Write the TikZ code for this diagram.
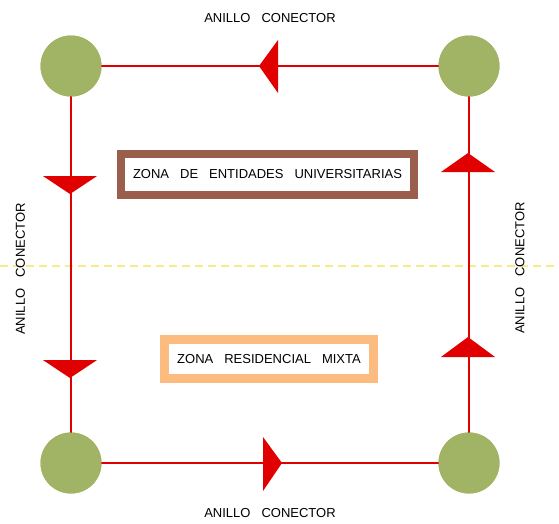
\documentclass[tikz,border=0pt]{standalone}
\usepackage{fontspec}
\setmainfont{Liberation Sans}
\definecolor{ringred}{HTML}{E00000}
\definecolor{nodegreen}{HTML}{A1B466}
\definecolor{zonebrown}{HTML}{9A5E4C}
\definecolor{zoneorange}{HTML}{FCBC80}
\definecolor{axisyellow}{HTML}{F7EC88}
\newcommand\wsp{\hspace{11pt}}
\tikzset{
  hub/.style={circle,fill=nodegreen,minimum size=61pt,inner sep=0pt},
  ring/.style={draw=ringred,line width=2pt},
  arrowtri/.style={fill=ringred},
  lbl/.style={font=\fontsize{13}{15}\selectfont,inner sep=0pt},
  zonebox/.style={draw,fill=white,line width=8.5pt,minimum height=41pt,inner sep=0pt,font=\fontsize{13}{15}\selectfont},
  axis/.style={draw=axisyellow,line width=1.6pt,dash pattern=on 8pt off 5pt}
}
\begin{document}
\begin{tikzpicture}[x=1pt,y=-1pt]
\useasboundingbox (0,0) rectangle (559,523);
% dashed axis
\coordinate (axl) at (0,266);
\coordinate (axr) at (559,266);
\draw[axis] (axl) -- (axr);
% hubs
\node[hub] (tl) at (71,66) {};
\node[hub] (tr) at (469,66) {};
\node[hub] (bl) at (71,463) {};
\node[hub] (br) at (469,463) {};
% ring lines (drawn behind hubs)
\begin{scope}[on background layer/.try]
\end{scope}
\draw[ring] (tr.center) -- (tl.center);
\draw[ring] (tl.center) -- (bl.center);
\draw[ring] (bl.center) -- (br.center);
\draw[ring] (br.center) -- (tr.center);
% redraw hubs above lines
\fill[nodegreen] (tl) circle (30.5);
\fill[nodegreen] (tr) circle (30.5);
\fill[nodegreen] (bl) circle (30.5);
\fill[nodegreen] (br) circle (30.5);
% direction triangles
\fill[arrowtri] (259,66) -- (278,40) -- (278,93) -- cycle;
\fill[arrowtri] (70,194) -- (43,176) -- (97,176) -- cycle;
\fill[arrowtri] (70,378) -- (43,360) -- (97,360) -- cycle;
\fill[arrowtri] (282,463) -- (263,437) -- (263,491) -- cycle;
\fill[arrowtri] (468,337) -- (441,357) -- (495,357) -- cycle;
\fill[arrowtri] (468,153) -- (441,172) -- (495,172) -- cycle;
% zone boxes
\node[zonebox,draw=zonebrown,minimum width=293pt] (zu) at (267.5,174.5) {ZONA\wsp DE\wsp ENTIDADES\wsp UNIVERSITARIAS};
\node[zonebox,draw=zoneorange,line width=9pt,minimum width=209pt,minimum height=39pt] (zr) at (269,359) {ZONA\wsp RESIDENCIAL\wsp MIXTA};
% ring labels
\node[lbl] (lt) at (270,18) {ANILLO\wsp CONECTOR};
\node[lbl] (lb) at (270,513) {ANILLO\wsp CONECTOR};
\node[lbl,rotate=90] (ll) at (20.5,269) {ANILLO\wsp CONECTOR};
\node[lbl,rotate=90] (lr) at (520,268) {ANILLO\wsp CONECTOR};
\end{tikzpicture}
\end{document}
